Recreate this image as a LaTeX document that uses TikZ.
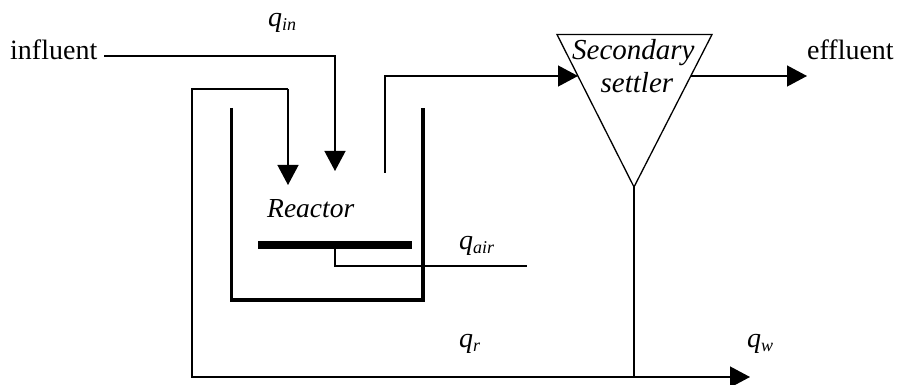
\documentclass[tikz,border=0pt]{standalone}
\usepackage{fontspec}
\setmainfont{Liberation Serif}
\usetikzlibrary{arrows.meta}
\tikzset{
  thinline/.style={line width=1.3pt},
  flow/.style={thinline,-{Triangle[length=20pt,width=21pt]}},
  vessel/.style={line width=3.3pt},
  plain/.style={inner sep=0pt,font=\fontsize{28}{28}\selectfont},
  slab/.style={inner sep=0pt,anchor=base west,font=\fontsize{29}{30}\selectfont\itshape},
  rlab/.style={inner sep=0pt,anchor=base west,font=\fontsize{27.5}{30}\selectfont\itshape},
  qmain/.style={inner sep=0pt,anchor=base west},
}
\newcommand{\qlab}[1]{\fontsize{28}{30}\selectfont\itshape q\raisebox{-4pt}{\fontsize{18}{20}\selectfont #1}}
\begin{document}
\begin{tikzpicture}[x=1pt,y=-1pt]
\useasboundingbox (0,0) rectangle (898,385);
% coordinates
\coordinate (inl) at (104,56);
\coordinate (inc) at (335,56);
\coordinate (intip) at (335,171);
\coordinate (rtop1) at (192,89);
\coordinate (rtop2) at (288,89);
\coordinate (rtip) at (288,185);
\coordinate (rbot) at (192,377);
\coordinate (wtip) at (750,377);
\coordinate (jct) at (634,377);
\coordinate (outb) at (385,173);
\coordinate (outc) at (385,76);
\coordinate (tl) at (557,34.5);
\coordinate (tr) at (712,34.5);
\coordinate (tb) at (634,187);
\coordinate (feed) at (578,76);
\coordinate (effs) at (691,76);
\coordinate (efft) at (807,76);
\coordinate (stem) at (335,249);
\coordinate (stemc) at (335,266);
\coordinate (aire) at (527,266);
% vessel and aerator
\draw[vessel,line join=miter] (231.5,108) -- (231.5,300) -- (423,300) -- (423,108);
\draw[line width=8pt] (258,245) -- (412,245);
\draw[thinline] (stem) -- (stemc) -- (aire);
% flows
\draw[flow] (inl) -- (inc) -- (intip);
\draw[flow] (rtop2) -- (rtip);
\draw[thinline] (rtop2) -- (rtop1) -- (rbot) -- (jct);
\draw[flow] (jct) -- (wtip);
\draw[flow] (outb) -- (outc) -- (feed);
\draw[thinline] (tb) -- (jct);
\draw[flow] (effs) -- (efft);
\draw[thinline,line join=miter] (tl) -- (tr) -- (tb) -- cycle;
% text
\node[plain,anchor=base west] (influent) at (10,60) {influent};
\node[plain,anchor=base west] (effluent) at (807,60) {effluent};
\node[slab] (sec) at (572,60) {Secondary};
\node[slab] (set) at (600.5,93) {settler};
\node[rlab] (rea) at (267,218) {Reactor};
\node[qmain] (qin) at (268,27) {\qlab{in}};
\node[qmain] (qair) at (459,250) {\qlab{air}};
\node[qmain] (qr) at (459,347) {\qlab{r}};
\node[qmain] (qw) at (747,347) {\qlab{w}};
\end{tikzpicture}
\end{document}
